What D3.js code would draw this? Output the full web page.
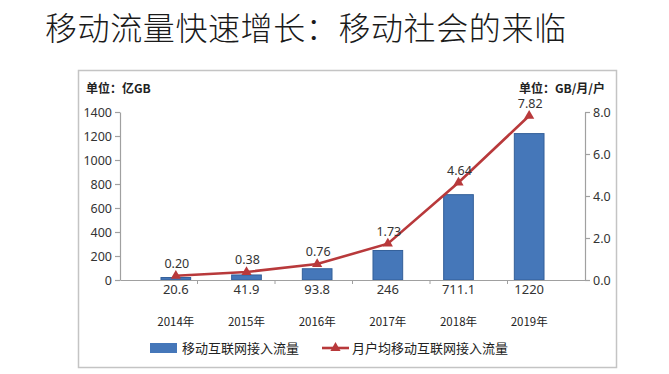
<!DOCTYPE html>
<html>
<head>
<meta charset="utf-8">
<script src="https://cdn.jsdelivr.net/npm/d3@7"></script>
<style>
  body { margin: 0; background: #fff; }
  text { font-family: "Noto Sans CJK SC", "Noto Sans", sans-serif; }
</style>
</head>
<body>
<svg id="chart" width="669" height="374"></svg>
<script>
var years = ['2014年', '2015年', '2016年', '2017年', '2018年', '2019年'];
var traffic = [20.6, 41.9, 93.8, 246, 711.1, 1220];
var trafficLabels = ['20.6', '41.9', '93.8', '246', '711.1', '1220'];
var perUser = [0.20, 0.38, 0.76, 1.73, 4.64, 7.82];
var leftTicks = [0, 200, 400, 600, 800, 1000, 1200, 1400];
var rightTicks = [0, 2, 4, 6, 8];

var svg = d3.select('#chart');

svg.append('text')
    .attr('x', 45).attr('y', 40)
    .attr('font-size', 32)
    .attr('font-weight', 300)
    .attr('letter-spacing', 0.6)
    .attr('fill', '#1a1a1a')
    .text('移动流量快速增长：移动社会的来临');

// chart frame
svg.append('rect')
    .attr('x', 78.5).attr('y', 70.5)
    .attr('width', 538).attr('height', 297)
    .attr('fill', '#fff')
    .attr('stroke', '#c4c4c4')
    .attr('stroke-width', 1.5);

var plotLeft = 120, plotRight = 585, plotTop = 112, plotBottom = 280;

var x = d3.scaleBand().domain(years).range([plotLeft, plotRight]).padding(0.58);
var xOuter = d3.scaleBand().domain(years).range([plotLeft, plotRight]);
var y = d3.scaleLinear().domain([0, 1400]).range([plotBottom, plotTop]);
var y2 = d3.scaleLinear().domain([0, 8]).range([plotBottom, plotTop]);

var g = svg.append('g');

// bars
g.selectAll('.bar')
    .data(traffic)
    .enter()
    .append('rect')
    .attr('class', 'bar')
    .attr('x', function (d, i) { return x(years[i]); })
    .attr('y', function (d) { return y(d); })
    .attr('width', x.bandwidth())
    .attr('height', function (d) { return plotBottom - y(d); })
    .attr('fill', '#4577b9')
    .attr('stroke', '#335f99')
    .attr('stroke-width', 1);

// axes
var leftAxis = g.append('g')
    .attr('transform', 'translate(' + plotLeft + ',0)')
    .call(d3.axisLeft(y).tickValues(leftTicks).tickFormat(d3.format('d')).tickSize(5).tickSizeOuter(0));
var rightAxis = g.append('g')
    .attr('transform', 'translate(' + plotRight + ',0)')
    .call(d3.axisRight(y2).tickValues(rightTicks).tickFormat(d3.format('.1f')).tickSize(5).tickSizeOuter(0));
var bottomAxis = g.append('g')
    .attr('transform', 'translate(0,' + plotBottom + ')')
    .call(d3.axisBottom(xOuter).tickSize(0).tickFormat(''));
bottomAxis.selectAll('.tick').remove();

// category boundary ticks
g.selectAll('.xtick')
    .data(years.slice(1))
    .enter()
    .append('line')
    .attr('x1', function (d) { return xOuter(d); })
    .attr('x2', function (d) { return xOuter(d); })
    .attr('y1', plotBottom)
    .attr('y2', plotBottom + 4)
    .attr('stroke', '#a0a0a0');

[leftAxis, rightAxis, bottomAxis].forEach(function (a) {
    a.selectAll('path, line').attr('stroke', '#a0a0a0').attr('stroke-width', 1.2);
    a.selectAll('text').attr('font-size', 12.5).attr('fill', '#333')
        .style('font-family', '"Noto Sans", sans-serif');
});
leftAxis.selectAll('text').attr('x', -8);
rightAxis.selectAll('text').attr('x', 8);

// bar value labels
g.selectAll('.barlabel')
    .data(trafficLabels)
    .enter()
    .append('text')
    .attr('x', function (d, i) { return x(years[i]) + x.bandwidth() / 2; })
    .attr('y', 294)
    .attr('text-anchor', 'middle')
    .attr('font-size', 13)
    .attr('fill', '#333')
    .style('font-family', '"Noto Sans", sans-serif')
    .text(function (d) { return d; });

// year labels
g.selectAll('.year')
    .data(years)
    .enter()
    .append('text')
    .attr('x', function (d) { return x(d) + x.bandwidth() / 2; })
    .attr('y', 326)
    .attr('text-anchor', 'middle')
    .attr('font-size', 11.5)
    .attr('fill', '#222')
    .text(function (d) { return d; });

// line
var cx = function (d, i) { return x(years[i]) + x.bandwidth() / 2; };
var line = d3.line()
    .x(function (d, i) { return cx(d, i); })
    .y(function (d) { return y2(d); });

g.append('path')
    .datum(perUser)
    .attr('d', line)
    .attr('fill', 'none')
    .attr('stroke', '#b8393b')
    .attr('stroke-width', 2.6);

var tri = d3.symbol().type(d3.symbolTriangle).size(45);
g.selectAll('.marker')
    .data(perUser)
    .enter()
    .append('path')
    .attr('d', tri)
    .attr('transform', function (d, i) { return 'translate(' + cx(d, i) + ',' + y2(d) + ')'; })
    .attr('fill', '#b8393b');

g.selectAll('.linelabel')
    .data(perUser)
    .enter()
    .append('text')
    .attr('x', function (d, i) { return cx(d, i) + 1; })
    .attr('y', function (d) { return y2(d) - 8; })
    .attr('text-anchor', 'middle')
    .attr('font-size', 12.5)
    .attr('fill', '#333')
    .style('font-family', '"Noto Sans", sans-serif')
    .text(function (d) { return d3.format('.2f')(d); });

// unit labels
svg.append('text')
    .attr('x', 86).attr('y', 93)
    .attr('font-size', 12).attr('font-weight', 'bold').attr('fill', '#222')
    .text('单位：亿GB');
svg.append('text')
    .attr('x', 605).attr('y', 93)
    .attr('text-anchor', 'end')
    .attr('font-size', 12).attr('font-weight', 'bold').attr('fill', '#222')
    .text('单位：GB/月/户');

// legend
var lg = svg.append('g');
lg.append('rect')
    .attr('x', 150).attr('y', 343).attr('width', 27).attr('height', 10)
    .attr('fill', '#4577b9');
lg.append('text')
    .attr('x', 182).attr('y', 353)
    .attr('font-size', 13).attr('fill', '#222')
    .text('移动互联网接入流量');
lg.append('line')
    .attr('x1', 322).attr('x2', 349).attr('y1', 348).attr('y2', 348)
    .attr('stroke', '#b8393b').attr('stroke-width', 2.6);
lg.append('path')
    .attr('d', tri)
    .attr('transform', 'translate(335.5,348)')
    .attr('fill', '#b8393b');
lg.append('text')
    .attr('x', 352).attr('y', 353)
    .attr('font-size', 13).attr('fill', '#222')
    .text('月户均移动互联网接入流量');
</script>
</body>
</html>
